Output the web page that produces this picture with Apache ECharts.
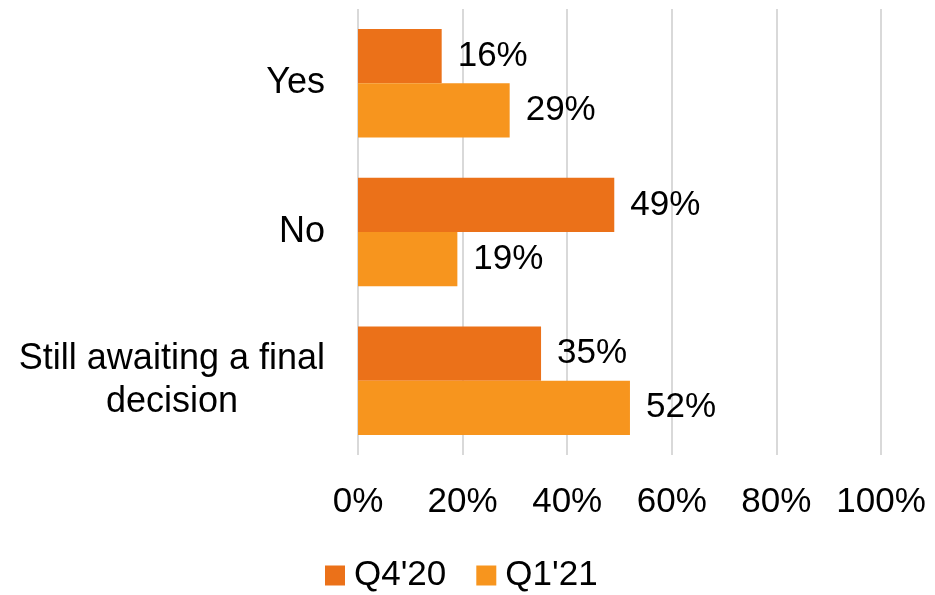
<!DOCTYPE html>
<html>
<head>
<meta charset="utf-8">
<script src="https://cdn.jsdelivr.net/npm/echarts@6/dist/echarts.min.js"></script>
<style>
  html, body { margin: 0; padding: 0; background: #ffffff; }
  #chart { width: 935px; height: 595px; }
</style>
</head>
<body>
<div id="chart"></div>
<script>
// Survey responses, share of respondents per quarter
const categories = ['Yes', 'No', 'Still awaiting a final\ndecision'];
const seriesNames = ["Q4'20", "Q1'21"];
const q4_20 = [16, 49, 35];
const q1_21 = [29, 19, 52];
const xTicks = [0, 20, 40, 60, 80, 100];

const FONT = '"Liberation Sans", Arial, sans-serif';
const colors = ['#EB7119', '#F7951E'];

const chart = echarts.init(document.getElementById('chart'));

function barSeries(name, data, color) {
  return {
    name: name,
    type: 'bar',
    data: data,
    barGap: '0%',
    barCategoryGap: '27%',
    itemStyle: { color: color },
    label: {
      show: true,
      position: 'right',
      distance: 16,
      formatter: p => p.value + '%',
      color: '#000',
      fontFamily: FONT,
      fontSize: 35
    }
  };
}

chart.setOption({
  animation: false,
  color: colors,
  grid: { left: 358, right: 54, top: 9, bottom: 140, containLabel: false },
  legend: {
    data: seriesNames,
    left: 325,
    top: 558,
    padding: 0,
    itemWidth: 20,
    itemHeight: 20,
    itemGap: 30,
    icon: 'rect',
    textStyle: { fontFamily: FONT, fontSize: 35, color: '#000', padding: [0, 0, 0, 4] }
  },
  xAxis: {
    type: 'value',
    min: xTicks[0],
    max: xTicks[xTicks.length - 1],
    interval: 20,
    axisLine: { show: false },
    axisTick: { show: false },
    splitLine: { lineStyle: { color: '#D9D9D9', width: 2 } },
    axisLabel: {
      formatter: v => v + '%',
      fontFamily: FONT,
      fontSize: 35,
      color: '#000',
      margin: 30
    }
  },
  yAxis: {
    type: 'category',
    data: categories,
    inverse: true,
    axisLine: { show: false },
    axisTick: { show: false },
    splitLine: { show: false },
    axisLabel: {
      margin: 33,
      color: '#000',
      fontFamily: FONT,
      fontSize: 36,
      formatter: v => v.split('\n').map(s => '{c|' + s + '}').join('\n'),
      rich: {
        c: { align: 'center', fontFamily: FONT, fontSize: 36, lineHeight: 43, color: '#000' }
      }
    }
  },
  series: [
    barSeries(seriesNames[0], q4_20, colors[0]),
    barSeries(seriesNames[1], q1_21, colors[1])
  ]
});
</script>
</body>
</html>
